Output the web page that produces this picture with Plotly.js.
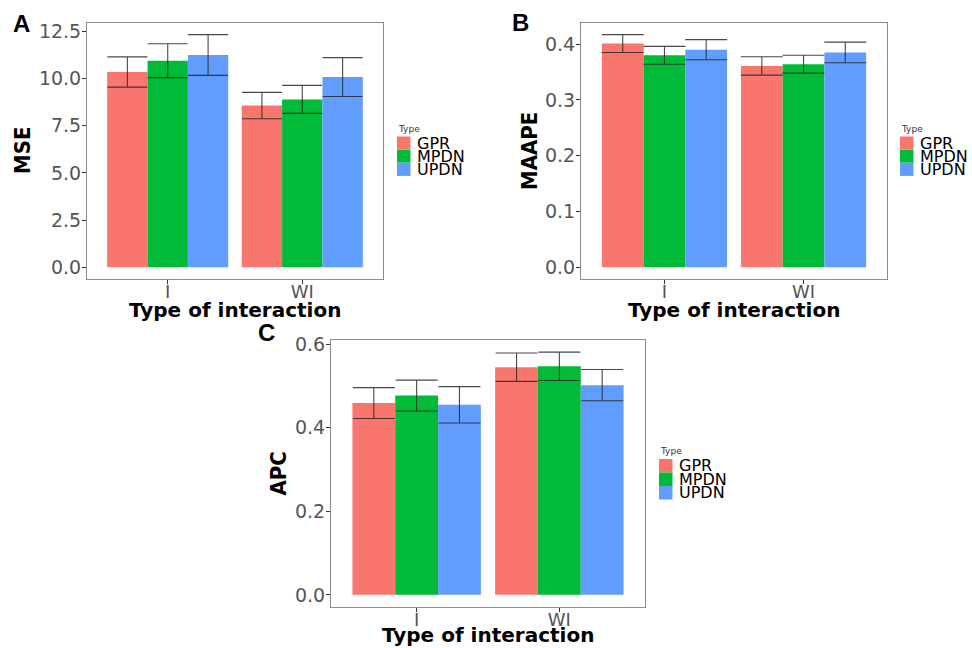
<!DOCTYPE html>
<html>
<head>
<meta charset="utf-8">
<script src="https://cdn.plot.ly/plotly-3.0.1.min.js"></script>
<style>html,body{margin:0;padding:0;background:#fff;}#chart{width:972px;height:648px;}</style>
</head>
<body>
<div id="chart"></div>
<script>
// ---- data ----
const categories = ['I', 'WI'];
const seriesNames = ['GPR', 'MPDN', 'UPDN'];
const seriesColors = ['#F8766D', '#00BA38', '#619CFF'];

const mseGPR = [10.35, 8.57];
const mseMPDN = [10.95, 8.90];
const mseUPDN = [11.25, 10.08];
const mseErrGPR = [0.80, 0.70];
const mseErrMPDN = [0.90, 0.74];
const mseErrUPDN = [1.08, 1.03];

const maapeGPR = [0.401, 0.361];
const maapeMPDN = [0.380, 0.364];
const maapeUPDN = [0.390, 0.385];
const maapeErrGPR = [0.016, 0.0165];
const maapeErrMPDN = [0.016, 0.016];
const maapeErrUPDN = [0.018, 0.0185];

const apcGPR = [0.459, 0.545];
const apcMPDN = [0.477, 0.547];
const apcUPDN = [0.455, 0.502];
const apcErrGPR = [0.037, 0.034];
const apcErrMPDN = [0.037, 0.034];
const apcErrUPDN = [0.0435, 0.0375];

const yTickLabelsMSE = ['0.0', '2.5', '5.0', '7.5', '10.0', '12.5'];
const yTickLabelsMAAPE = ['0.0', '0.1', '0.2', '0.3', '0.4'];
const yTickLabelsAPC = ['0.0', '0.2', '0.4', '0.6'];

// ---- layout helpers ----
const W = 972, H = 648;
const px = x => x / W;
const py = y => 1 - y / H;

const panels = [
  {key: '', vals: [mseGPR, mseMPDN, mseUPDN], errs: [mseErrGPR, mseErrMPDN, mseErrUPDN],
   ticks: yTickLabelsMSE, ylabel: 'MSE', letter: 'A', xtitleY: 310,
   box: [87, 23, 383, 279], capw: 20, legend: [397, 129, 136.5, 13.2, 13]},
  {key: '2', vals: [maapeGPR, maapeMPDN, maapeUPDN], errs: [maapeErrGPR, maapeErrMPDN, maapeErrUPDN],
   ticks: yTickLabelsMAAPE, ylabel: 'MAAPE', letter: 'B', xtitleY: 310,
   box: [581, 23, 887, 279], capw: 21, legend: [900, 129, 136.5, 13.2, 13]},
  {key: '3', vals: [apcGPR, apcMPDN, apcUPDN], errs: [apcErrGPR, apcErrMPDN, apcErrUPDN],
   ticks: yTickLabelsAPC, ylabel: 'APC', letter: 'C', xtitleY: 635,
   box: [331, 340, 645, 607], capw: 21, legend: [659, 451, 459, 13.5, 13.5]}
];

const data = [];
const layout = {
  width: W, height: H,
  margin: {l: 0, r: 0, t: 0, b: 0},
  paper_bgcolor: '#fff', plot_bgcolor: '#fff',
  showlegend: false,
  barmode: 'group', bargap: 0.1, bargroupgap: 0,
  font: {family: 'DejaVu Sans, Liberation Sans, sans-serif'},
  annotations: [], shapes: []
};

const tickFont = {family: 'DejaVu Sans, sans-serif', size: 19, color: '#555555'};
const xTickFont = {family: 'DejaVu Sans, sans-serif', size: 18, color: '#555555'};
const titleFont = {family: 'DejaVu Sans, Liberation Sans, sans-serif', size: 20, color: '#000', weight: 'bold'};

panels.forEach(p => {
  const xa = 'x' + p.key, ya = 'y' + p.key;
  let maxTop = 0;
  p.vals.forEach((v, i) => v.forEach((val, j) => { maxTop = Math.max(maxTop, val + p.errs[i][j]); }));
  const ticksVals = p.ticks.map(t => parseFloat(t));

  seriesNames.forEach((name, i) => {
    data.push({
      type: 'bar', name: name, x: categories, y: p.vals[i],
      xaxis: xa, yaxis: ya,
      marker: {color: seriesColors[i], line: {width: 0}},
      error_y: {type: 'data', array: p.errs[i], visible: true, color: 'rgba(40,40,40,0.85)', thickness: 1.1, width: p.capw},
      hoverinfo: 'x+y+name'
    });
  });

  const [x0, y0, x1, y1] = p.box;
  layout['xaxis' + p.key] = {
    domain: [px(x0), px(x1)], anchor: ya,
    type: 'category', range: [-0.6, 1.6],
    showline: true, mirror: true, linecolor: '#8c8c8c', linewidth: 1,
    ticks: 'outside', ticklen: 4, tickcolor: '#333', tickwidth: 1,
    ticklabelstandoff: -8,
    tickfont: xTickFont, showgrid: false, zeroline: false, fixedrange: true
  };
  layout['yaxis' + p.key] = {
    domain: [py(y1), py(y0)], anchor: xa,
    range: [-0.05 * maxTop, 1.05 * maxTop],
    tickmode: 'array', tickvals: ticksVals, ticktext: p.ticks,
    showline: true, mirror: true, linecolor: '#8c8c8c', linewidth: 1,
    ticks: 'outside', ticklen: 4, tickcolor: '#333', tickwidth: 1,
    ticklabelstandoff: -3,
    tickfont: tickFont, showgrid: false, zeroline: false, fixedrange: true
  };

  // axis titles
  layout.annotations.push({
    xref: 'paper', yref: 'paper', x: px((x0 + x1) / 2), y: py(p.xtitleY),
    text: 'Type of interaction', showarrow: false, xanchor: 'center', yanchor: 'middle',
    font: titleFont
  });
  const ylabX = {A: 22, B: 529, C: 278}[p.letter];
  layout.annotations.push({
    xref: 'paper', yref: 'paper', x: px(ylabX), y: py((y0 + y1) / 2),
    text: p.ylabel, showarrow: false, textangle: -90, xanchor: 'center', yanchor: 'middle',
    font: {family: 'Liberation Sans Narrow, DejaVu Sans Condensed, Liberation Sans, sans-serif', size: 22, color: '#000', weight: 'bold'}
  });
  // panel letter
  const letterPos = {A: [21, 23], B: [520, 22], C: [266, 333]}[p.letter];
  layout.annotations.push({
    xref: 'paper', yref: 'paper', x: px(letterPos[0]), y: py(letterPos[1]),
    text: '<b>' + p.letter + '</b>', showarrow: false, xanchor: 'center', yanchor: 'middle',
    font: {family: 'Liberation Sans, Arial, sans-serif', size: 24, color: '#000'}
  });

  // legend
  const [lx, ty, ry, step, sz] = p.legend;
  layout.annotations.push({
    xref: 'paper', yref: 'paper', x: px(lx - 1), y: py(ty),
    text: 'Type', showarrow: false, xanchor: 'left', yanchor: 'middle',
    font: {family: 'DejaVu Sans, sans-serif', size: 9, color: '#333'}
  });
  seriesNames.forEach((name, i) => {
    const top = ry + i * step;
    layout.shapes.push({
      type: 'rect', xref: 'paper', yref: 'paper',
      x0: px(lx), x1: px(lx + 13.5), y0: py(top + sz), y1: py(top),
      fillcolor: seriesColors[i], line: {width: 0}
    });
    layout.annotations.push({
      xref: 'paper', yref: 'paper', x: px(lx + 18), y: py(top + sz / 2),
      text: name, showarrow: false, xanchor: 'left', yanchor: 'middle',
      font: {family: 'DejaVu Sans, sans-serif', size: 16, color: '#000'}
    });
  });
});

Plotly.newPlot('chart', data, layout, {displayModeBar: false, staticPlot: true});
</script>
</body>
</html>
